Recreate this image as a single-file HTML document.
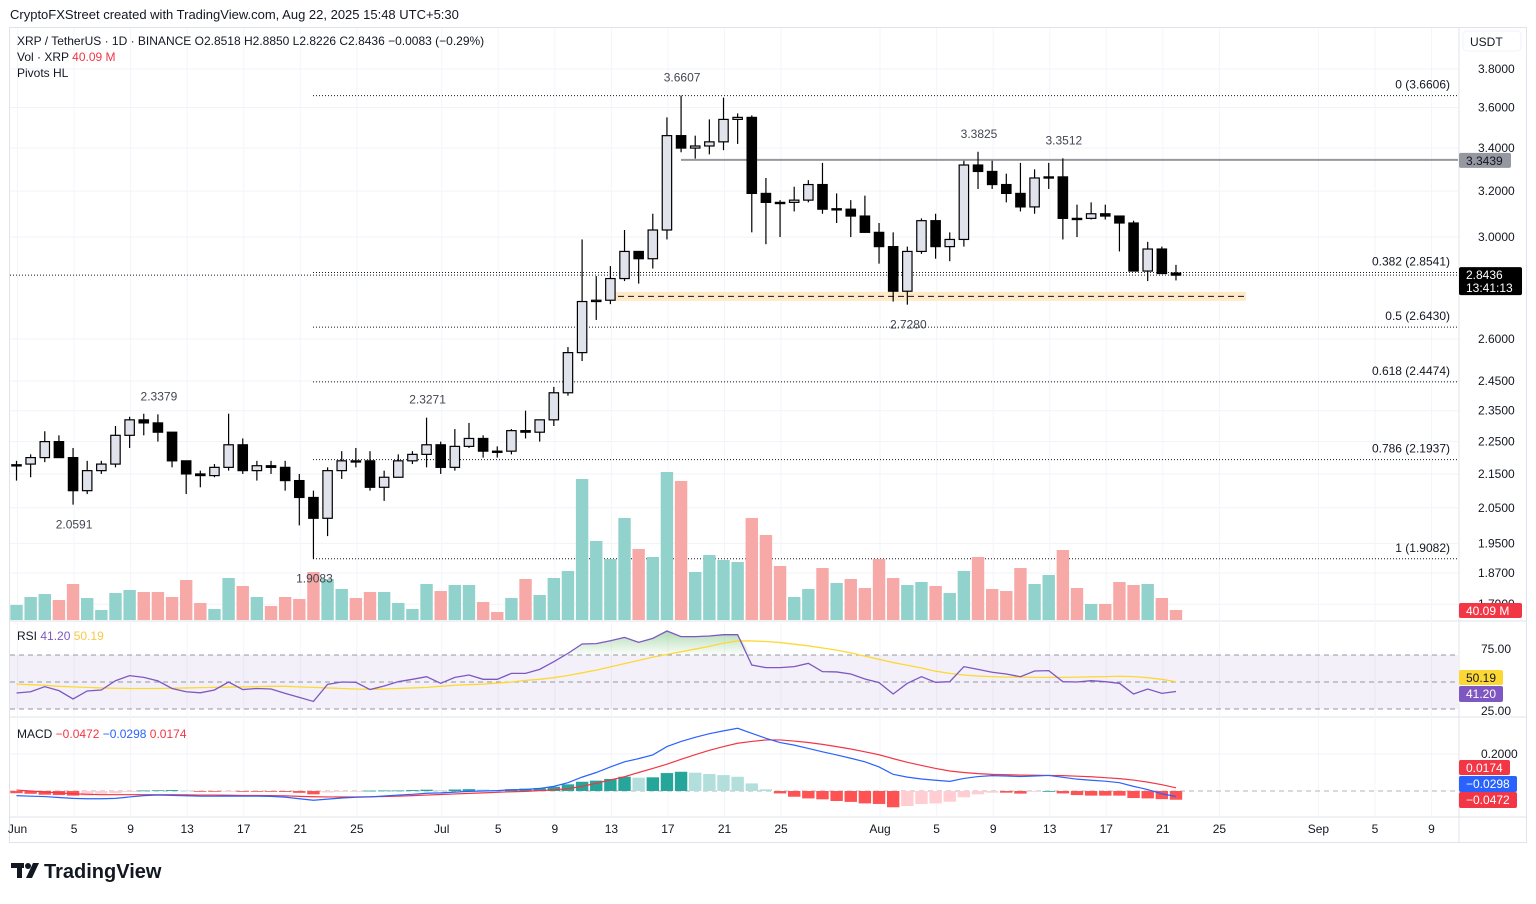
<!DOCTYPE html>
<html><head><meta charset="utf-8"><style>
html,body{margin:0;padding:0;background:#fff;}
body{width:1536px;height:899px;overflow:hidden;font-family:"Liberation Sans",sans-serif;}
svg text{font-family:"Liberation Sans",sans-serif;}
</style></head><body>
<svg id="chart" width="1536" height="899" viewBox="0 0 1536 899" xmlns="http://www.w3.org/2000/svg">
<text x="10" y="19" font-size="13" fill="#131722">CryptoFXStreet created with TradingView.com, Aug 22, 2025 15:48 UTC+5:30</text>
<rect x="9.5" y="27.5" width="1517" height="815" fill="none" stroke="#e0e3eb"/>
<line x1="1459" y1="28" x2="1459" y2="842" stroke="#e0e3eb"/>
<line x1="9" y1="621" x2="1526" y2="621" stroke="#e0e3eb"/>
<line x1="9" y1="717" x2="1526" y2="717" stroke="#e0e3eb"/>
<line x1="9" y1="817" x2="1526" y2="817" stroke="#e0e3eb"/>
<g id="grid"></g>
<g id="fib"></g>
<g id="vol"></g>
<g id="candles"></g>
<g id="rsi"></g>
<g id="macd"></g>
<g id="labels"></g>
<g id="axis"></g>
<text x="17" y="45" font-size="12" fill="#131722">XRP / TetherUS · 1D · BINANCE  O2.8518  H2.8850  L2.8226  C2.8436  −0.0083 (−0.29%)</text>
<text x="17" y="61" font-size="12" fill="#131722">Vol · XRP <tspan fill="#f23645">40.09 M</tspan></text>
<text x="17" y="77" font-size="12" fill="#131722">Pivots HL</text>
<text x="17" y="640" font-size="12" fill="#131722">RSI <tspan fill="#7e57c2">41.20</tspan> <tspan fill="#f7c948">50.19</tspan></text>
<text x="17" y="738" font-size="12" fill="#131722">MACD <tspan fill="#f23645">−0.0472</tspan> <tspan fill="#2962ff">−0.0298</tspan> <tspan fill="#f23645">0.0174</tspan></text>
<g>
<rect x="11" y="863" width="13" height="5" fill="#131722"/>
<rect x="17" y="863" width="5" height="15" fill="#131722"/>
<circle cx="28" cy="866" r="3" fill="#131722"/>
<polygon points="33,863 39,863 32,878 26,878" fill="#131722"/>
<text x="44" y="878" font-size="20" font-weight="bold" fill="#131722">TradingView</text>
</g>
</svg>
<script>
const dates = ["Jun","5","9","13","17","21","25","Jul","5","9","13","17","21","25","Aug","5","9","13","17","21","25","Sep","5","9"];
const dateDay = [0,4,8,12,16,20,24,30,34,38,42,46,50,54,61,65,69,73,77,81,85,92,96,100];
const opens = [2.175,2.18,2.20,2.25,2.20,2.10,2.16,2.18,2.27,2.32,2.31,2.28,2.19,2.15,2.145,2.17,2.24,2.16,2.175,2.17,2.13,2.08,2.02,2.16,2.19,2.19,2.11,2.14,2.19,2.21,2.24,2.17,2.235,2.26,2.22,2.22,2.285,2.28,2.32,2.41,2.55,2.74,2.745,2.83,2.94,2.91,3.03,3.46,3.40,3.41,3.43,3.54,3.55,3.19,3.15,3.15,3.16,3.23,3.12,3.12,3.09,3.02,2.96,2.78,2.94,3.07,2.96,2.99,3.32,3.29,3.23,3.19,3.13,3.26,3.265,3.08,3.08,3.10,3.09,3.06,2.86,2.95,2.8518];
const highs = [2.19,2.21,2.283,2.27,2.23,2.19,2.19,2.30,2.33,2.34,2.3379,2.28,2.19,2.16,2.18,2.34,2.26,2.19,2.19,2.19,2.15,2.10,2.17,2.22,2.23,2.22,2.16,2.21,2.22,2.3271,2.25,2.29,2.31,2.27,2.235,2.29,2.35,2.32,2.43,2.57,2.99,2.84,2.88,3.03,2.94,3.10,3.55,3.6607,3.46,3.54,3.65,3.57,3.56,3.26,3.16,3.22,3.25,3.33,3.19,3.16,3.18,3.06,3.02,2.96,3.08,3.10,3.02,3.34,3.3825,3.34,3.28,3.33,3.30,3.33,3.3512,3.14,3.15,3.14,3.09,3.07,2.98,2.96,2.885];
const lows = [2.13,2.14,2.186,2.20,2.0591,2.09,2.15,2.17,2.23,2.27,2.25,2.17,2.09,2.11,2.14,2.16,2.15,2.13,2.15,2.10,2.00,1.9083,1.97,2.135,2.17,2.10,2.07,2.14,2.18,2.17,2.15,2.16,2.23,2.20,2.20,2.21,2.26,2.25,2.30,2.40,2.52,2.67,2.73,2.82,2.81,2.87,2.99,3.38,3.35,3.37,3.39,3.42,3.02,2.97,3.00,3.11,3.15,3.10,3.06,3.00,3.02,2.89,2.74,2.728,2.93,2.91,2.90,2.96,3.21,3.21,3.15,3.11,3.10,3.21,2.99,3.00,3.075,3.075,2.94,2.86,2.82,2.85,2.8226];
const closes = [2.178,2.20,2.25,2.20,2.10,2.16,2.18,2.27,2.32,2.31,2.28,2.19,2.15,2.145,2.17,2.24,2.16,2.175,2.17,2.13,2.08,2.02,2.16,2.19,2.188,2.11,2.14,2.19,2.21,2.24,2.17,2.235,2.26,2.22,2.218,2.285,2.28,2.32,2.41,2.55,2.74,2.745,2.83,2.94,2.91,3.03,3.46,3.40,3.41,3.43,3.54,3.55,3.19,3.15,3.148,3.16,3.23,3.12,3.122,3.09,3.02,2.96,2.78,2.94,3.07,2.96,2.99,3.32,3.29,3.23,3.19,3.13,3.26,3.265,3.08,3.078,3.10,3.09,3.06,2.86,2.95,2.85,2.8436];
const volumes = [60,92,104,80,144,88,40,108,120,112,112,92,160,68,44,168,136,92,56,92,84,192,164,124,88,112,112,68,44,144,116,140,140,72,32,88,164,100,168,196,564,316,244,408,284,252,592,556,192,260,240,232,408,340,216,92,124,208,148,164,128,244,168,140,152,136,108,196,252,124,116,208,144,180,280,128,64,64,152,140,144,88,40.09];
const rsiValues = [39.8,41,45.7,42,34.3,41.7,42.6,51.2,55.9,54.3,51,44,41,40,42.6,50,43,44,43.5,39.5,35.8,32,47.8,50,49.7,43,46.3,50.3,52.5,54.9,48.8,54.3,56.5,52.5,52.5,58,58,61.7,68.8,76.5,85.2,85.5,88.2,91.3,86.7,90.4,97.2,92,92,92.6,93.8,93.8,65.7,63.3,63.3,64.2,67.3,59.6,59.3,57.4,52.8,49.4,38.9,48.8,54.9,49.7,50.3,64.2,61.7,59,57.4,54.9,60.2,60.5,50.3,50,51.2,50.3,48.8,38.9,43.5,39.5,41.2];
const rsiMA = [48,47.5,47,46,45.5,45,44.5,44.2,44,44,44,44.2,44.5,44.8,45,45.2,45.5,45.7,46,46,45.5,45,44.5,44,43.5,43.3,43.5,44,44.5,45,46,47,47.5,48,49,50,51.5,52.5,54,56,58.5,61,64,67,70,73,75.5,78,80.5,83,86,88,88,87.5,86.5,85,83.5,81.5,79.5,77,74,71,68,65.5,63,60,58,56.5,55.5,55,54.5,54.5,54.3,54.3,54.3,54.5,54.8,55,55.3,55,54,52.5,50.19];
const macdLine = [-0.025,-0.028,-0.03,-0.035,-0.04,-0.042,-0.042,-0.04,-0.032,-0.025,-0.022,-0.024,-0.026,-0.028,-0.028,-0.027,-0.028,-0.028,-0.029,-0.033,-0.042,-0.05,-0.044,-0.038,-0.034,-0.032,-0.027,-0.022,-0.018,-0.012,-0.01,-0.006,-0.002,0,0.002,0.006,0.008,0.014,0.025,0.045,0.075,0.1,0.13,0.158,0.175,0.195,0.24,0.268,0.29,0.31,0.325,0.339,0.312,0.285,0.262,0.248,0.23,0.212,0.195,0.177,0.158,0.13,0.09,0.075,0.065,0.058,0.052,0.068,0.078,0.083,0.081,0.078,0.081,0.084,0.074,0.064,0.058,0.053,0.045,0.025,0.008,-0.015,-0.0298];
const signalLine = [0.005,0,-0.005,-0.01,-0.015,-0.018,-0.02,-0.02,-0.02,-0.02,-0.02,-0.02,-0.021,-0.022,-0.022,-0.023,-0.024,-0.024,-0.025,-0.026,-0.029,-0.031,-0.032,-0.032,-0.032,-0.031,-0.03,-0.028,-0.025,-0.022,-0.019,-0.016,-0.013,-0.01,-0.007,-0.004,-0.002,0.002,0.006,0.013,0.025,0.042,0.06,0.077,0.1,0.122,0.145,0.171,0.196,0.22,0.24,0.258,0.268,0.276,0.276,0.27,0.262,0.252,0.24,0.227,0.212,0.196,0.175,0.155,0.138,0.122,0.108,0.1,0.094,0.09,0.088,0.086,0.085,0.084,0.083,0.08,0.077,0.072,0.067,0.059,0.048,0.034,0.0174];
const histValues = [-0.012,-0.015,-0.02,-0.022,-0.025,-0.024,-0.015,-0.012,-0.005,0.003,0.004,0.005,0.003,-0.003,-0.004,-0.003,-0.004,-0.004,-0.004,-0.005,-0.01,-0.018,-0.008,-0.003,-0.001,0.002,0.003,0.003,0.005,0.007,0.004,0.008,0.01,0.008,0.004,0.01,0.013,0.015,0.023,0.036,0.05,0.056,0.065,0.077,0.072,0.074,0.097,0.104,0.099,0.092,0.086,0.077,0.041,0.009,-0.013,-0.031,-0.04,-0.045,-0.054,-0.059,-0.067,-0.07,-0.088,-0.081,-0.07,-0.067,-0.058,-0.034,-0.018,-0.009,-0.009,-0.014,-0.004,0,-0.013,-0.022,-0.025,-0.025,-0.025,-0.038,-0.04,-0.044,-0.0472];
const priceTicks = [3.8,3.6,3.4,3.2,3.0,2.6,2.45,2.35,2.25,2.15,2.05,1.95,1.87,1.79];
const fibLevels = [3.6606,2.8541,2.6430,2.4474,2.1937,1.9082];
const fibNames = ["0","0.382","0.5","0.618","0.786","1"];
const pivotHighIdx = [10,29,47,68,74];
const pivotLowIdx = [4,21,63];
const supportLevel = 2.76;

const NS = "http://www.w3.org/2000/svg";
function mk(tag, attrs, parent){const e=document.createElementNS(NS,tag);for(const k in attrs)e.setAttribute(k,attrs[k]);parent.appendChild(e);return e;}
const xOf = i => 16.5 + 14.14*i;
const yOf = p => 69 + (Math.log(3.8) - Math.log(p))*711;
const yVol = v => 620 - v/4;
const yRsi = r => 682 - (r-50)*1.08;
const yMacd = m => 791 - m*185;
const fmt = p => p.toFixed(4);

const grid = document.getElementById('grid');
priceTicks.forEach(p=>{const l=mk('line',{x1:10,x2:1458,y1:yOf(p),y2:yOf(p),stroke:'#f0f3fa'},grid);

});
dateDay.forEach(d=>{const x=xOf(d)+1;const l=mk('line',{x1:x,x2:x,y1:28,y2:817,stroke:'#f3f5f9'},grid);

});

const axis = document.getElementById('axis');
priceTicks.forEach(p=>{const t=mk('text',{x:1478,y:yOf(p)+4,'font-size':12,fill:'#131722'},axis);t.textContent=fmt(p);

});
dates.forEach((d,k)=>{const t=mk('text',{x:xOf(dateDay[k])+1,y:833,'font-size':12,fill:'#131722','text-anchor':'middle'},axis);t.textContent=d;

});
{const r=mk('rect',{x:1463,y:31,width:58,height:20,rx:4,fill:'#fff',stroke:'#f0f3fa'},axis);


const t=mk('text',{x:1470,y:46,'font-size':12,fill:'#131722'},axis);t.textContent='USDT';}

const fib = document.getElementById('fib');
fibLevels.forEach((p,k)=>{const y=yOf(p);
const l=mk('line',{x1:313,x2:1458,y1:y,y2:y,stroke:'#131722','stroke-dasharray':'1,2'},fib);


const t=mk('text',{x:1450,y:y-7,'font-size':12,fill:'#131722','text-anchor':'end'},fib);t.textContent=fibNames[k]+' ('+fmt(p)+')';

});
{const b=mk('rect',{x:608,y:yOf(supportLevel)-4.5,width:638,height:9,fill:'#ffe9c7'},fib);


const l=mk('line',{x1:608,x2:1246,y1:yOf(supportLevel),y2:yOf(supportLevel),stroke:'#131722','stroke-dasharray':'6,4'},fib);


const r=mk('line',{x1:681,x2:1458,y1:yOf(3.3439),y2:yOf(3.3439),stroke:'#9598a1','stroke-width':2},fib);


const cp=mk('line',{x1:10,x2:1458,y1:yOf(2.8436),y2:yOf(2.8436),stroke:'#131722','stroke-dasharray':'1,2'},fib);

}

const vol = document.getElementById('vol');
volumes.forEach((v,i)=>{const up=closes[i]>=opens[i];
const r=mk('rect',{x:xOf(i)-6.2,y:yVol(v),width:12.4,height:620-yVol(v),fill:up?'#92d2cc':'#f7a9a7'},vol);

});

const cg = document.getElementById('candles');
opens.forEach((o,i)=>{const c=closes[i],x=xOf(i),up=c>=o;
const g=mk('g',{},cg);


mk('line',{x1:x,x2:x,y1:yOf(highs[i]),y2:yOf(lows[i]),stroke:'#000','stroke-width':1.2},g);
const top=yOf(Math.max(o,c)),bot=yOf(Math.min(o,c));
mk('rect',{x:x-4.7,y:top,width:9.4,height:Math.max(1.2,bot-top),fill:up?'#e0e3eb':'#000',stroke:'#000','stroke-width':1.2},g);});

const lab = document.getElementById('labels');
pivotHighIdx.forEach(i=>{const t=mk('text',{x:xOf(i)+1,y:yOf(highs[i])-14,'font-size':12,fill:'#434651','text-anchor':'middle'},lab);t.textContent=fmt(highs[i]);

});
pivotLowIdx.forEach(i=>{const t=mk('text',{x:xOf(i)+1,y:yOf(lows[i])+24,'font-size':12,fill:'#434651','text-anchor':'middle'},lab);t.textContent=fmt(lows[i]);

});

const rg = document.getElementById('rsi');
{const band=mk('rect',{x:10,y:yRsi(75),width:1448,height:yRsi(25)-yRsi(75),fill:'#7e57c2','fill-opacity':0.09},rg);


[75,50,25].forEach(v=>{const l=mk('line',{x1:10,x2:1458,y1:yRsi(v),y2:yRsi(v),stroke:'#9598a1','stroke-dasharray':'5,4'},rg);

});
[['75.00',75],['25.00',25]].forEach(([s,v])=>{const t=mk('text',{x:1481,y:yRsi(v)+(v>50?-2:6),'font-size':12,fill:'#131722'},rg);t.textContent=s;});
const defs=mk('defs',{},rg);const gr=mk('linearGradient',{id:'gfill',x1:0,y1:0,x2:0,y2:1},defs);
mk('stop',{offset:'0','stop-color':'#66bb6a','stop-opacity':0.5},gr);mk('stop',{offset:'1','stop-color':'#66bb6a','stop-opacity':0.03},gr);
let pts=rsiValues.map((r,i)=>xOf(i)+','+yRsi(Math.max(75,r))).join(' ');
const f=mk('polygon',{points:xOf(0)+','+yRsi(75)+' '+pts+' '+xOf(rsiValues.length-1)+','+yRsi(75),fill:'url(#gfill)'},rg);


const ma=mk('polyline',{points:rsiMA.map((r,i)=>xOf(i)+','+yRsi(r)).join(' '),fill:'none',stroke:'#fdd835','stroke-width':1.3},rg);


const rl=mk('polyline',{points:rsiValues.map((r,i)=>xOf(i)+','+yRsi(r)).join(' '),fill:'none',stroke:'#7e57c2','stroke-width':1.3},rg);

}

const mg = document.getElementById('macd');
{const z=mk('line',{x1:10,x2:1458,y1:yMacd(0),y2:yMacd(0),stroke:'#b2b5be','stroke-dasharray':'5,4'},mg);


mk('line',{x1:10,x2:1458,y1:yMacd(0.2),y2:yMacd(0.2),stroke:'#f0f3fa'},mg);
const t=mk('text',{x:1481,y:yMacd(0.2)+4,'font-size':12,fill:'#131722'},mg);t.textContent='0.2000';
histValues.forEach((h,i)=>{const prev=i>0?histValues[i-1]:h;
let col;if(h>=0)col=h>=prev?'#26a69a':'#b2dfdb';else col=h<=prev?'#ff5252':'#ffcdd2';
const y0=yMacd(0),y1=yMacd(h);
const r=mk('rect',{x:xOf(i)-6.2,y:Math.min(y0,y1),width:12.4,height:Math.max(0.8,Math.abs(y1-y0)),fill:col},mg);

});
const sl=mk('polyline',{points:signalLine.map((m,i)=>xOf(i)+','+yMacd(m)).join(' '),fill:'none',stroke:'#f23645','stroke-width':1.2},mg);


const ml=mk('polyline',{points:macdLine.map((m,i)=>xOf(i)+','+yMacd(m)).join(' '),fill:'none',stroke:'#2962ff','stroke-width':1.2},mg);

}

function tag(y,h,w,bg,fg,lines,name){const g=mk('g',{},axis);


mk('rect',{x:1459,y:y,width:w,height:h,rx:2,fill:bg},g);
lines.forEach((s,k)=>{const t=mk('text',{x:1466,y:y+12+k*13,'font-size':12,fill:fg},g);t.textContent=s;});}
tag(yOf(3.3439)-7,15,52,'#9598a1','#131722',['3.3439'],'resistance-price-tag');
tag(yOf(2.8436)-8,28,63,'#000','#fff',['2.8436','13:41:13'],'last-price-tag');
tag(603,15,63,'#f23645','#fff',['40.09 M'],'volume-tag');
tag(670,15,44,'#fdd835','#131722',['50.19'],'rsi-ma-tag');
tag(686,16,44,'#7e57c2','#fff',['41.20'],'rsi-tag');
tag(760,15,51,'#f23645','#fff',['0.0174'],'signal-tag');
tag(776,16,58,'#2962ff','#fff',['−0.0298'],'macd-tag');
tag(792,16,58,'#f23645','#fff',['−0.0472'],'histogram-tag');
</script>
</body></html>
